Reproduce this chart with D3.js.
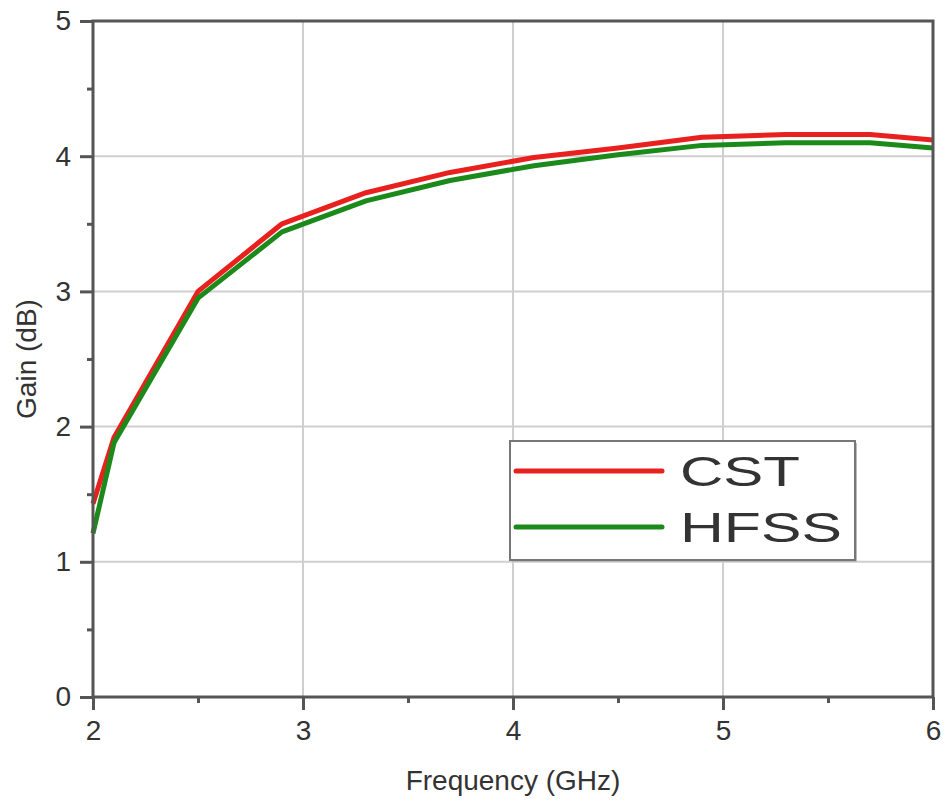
<!DOCTYPE html>
<html>
<head>
<meta charset="utf-8">
<script src="https://cdn.jsdelivr.net/npm/d3@7"></script>
<style>
  body { margin: 0; background: #fff; }
  svg text { font-family: "Liberation Sans", Arial, sans-serif; fill: #333; }
</style>
</head>
<body>
<svg id="chart" width="947" height="812"></svg>
<script>
// frequency points (GHz)
const freq = [2.0, 2.1, 2.5, 2.9, 3.3, 3.7, 4.1, 4.5, 4.9, 5.3, 5.7, 6.0];
// gain values (dB)
const cstGain  = [1.43, 1.92, 3.00, 3.50, 3.73, 3.88, 3.99, 4.06, 4.14, 4.16, 4.16, 4.12];
const hfssGain = [1.21, 1.88, 2.95, 3.44, 3.67, 3.82, 3.93, 4.01, 4.08, 4.10, 4.10, 4.06];
const xTicks = [2, 3, 4, 5, 6];
const yTicks = [0, 1, 2, 3, 4, 5];
const seriesNames = ["CST", "HFSS"];

let svg = d3.select("#chart");
let m = { left: 93, right: 14, top: 21, bottom: 115 };
let w = 947 - m.left - m.right,
    h = 812 - m.top - m.bottom;

let x = d3.scaleLinear().domain([2, 6]).range([0, w]);
let y = d3.scaleLinear().domain([0, 5]).range([h, 0]);

let g = svg.append("g").attr("transform", "translate(" + m.left + "," + m.top + ")");

// grid
g.append("g").selectAll("line")
    .data(xTicks.slice(1, -1))
    .enter().append("line")
        .attr("x1", d => x(d)).attr("x2", d => x(d))
        .attr("y1", 0).attr("y2", h)
        .attr("stroke", "#cfcfcf").attr("stroke-width", 2);
g.append("g").selectAll("line")
    .data(yTicks.slice(1, -1))
    .enter().append("line")
        .attr("y1", d => y(d)).attr("y2", d => y(d))
        .attr("x1", 0).attr("x2", w)
        .attr("stroke", "#cfcfcf").attr("stroke-width", 2);

// curves
let line = d3.line().x((d, i) => x(freq[i])).y(d => y(d));
let colors = ["#e8201e", "#1b8a1b"];
[cstGain, hfssGain].forEach(function(s, i) {
    g.append("path")
        .datum(s)
        .attr("fill", "none")
        .attr("stroke", colors[i])
        .attr("stroke-width", 5)
        .attr("stroke-linejoin", "round")
        .attr("d", line);
});

// frame
g.append("rect")
    .attr("width", w).attr("height", h)
    .attr("fill", "none").attr("stroke", "#555").attr("stroke-width", 3);

// axes
let xAxis = g.append("g").attr("transform", "translate(0," + h + ")")
    .call(d3.axisBottom(x).tickValues(xTicks).tickFormat(d3.format("d")).tickSize(13).tickPadding(10));
let xMinor = g.append("g").attr("transform", "translate(0," + h + ")")
    .call(d3.axisBottom(x).tickValues([2.5, 3.5, 4.5, 5.5]).tickFormat("").tickSize(6));
let yAxis = g.append("g")
    .call(d3.axisLeft(y).tickValues(yTicks).tickFormat(d3.format("d")).tickSize(13).tickPadding(9));
let yMinor = g.append("g")
    .call(d3.axisLeft(y).tickValues([0.5, 1.5, 2.5, 3.5, 4.5]).tickFormat("").tickSize(6));

[xAxis, xMinor, yAxis, yMinor].forEach(function(a) {
    a.select(".domain").remove();
    a.selectAll("line").attr("stroke", "#555").attr("stroke-width", 3);
    a.selectAll("text").style("font-size", "28px").attr("fill", "#333");
});

// axis titles
svg.append("text")
    .attr("x", m.left + w / 2).attr("y", 790)
    .attr("text-anchor", "middle")
    .style("font-size", "28px")
    .text("Frequency (GHz)");
svg.append("text")
    .attr("transform", "translate(36," + (m.top + h / 2) + ") rotate(-90)")
    .attr("text-anchor", "middle")
    .style("font-size", "28px")
    .text("Gain (dB)");

// legend
let lg = svg.append("g").attr("transform", "translate(510,441)");
lg.append("rect")
    .attr("x", 2).attr("y", 2).attr("width", 345).attr("height", 119)
    .attr("fill", "#bbb");
lg.append("rect")
    .attr("width", 345).attr("height", 119)
    .attr("fill", "#fff").attr("stroke", "#777").attr("stroke-width", 2);
let legendTextLen = [120, 162];
seriesNames.forEach(function(name, i) {
    let yy = 30 + i * 56;
    lg.append("line")
        .attr("x1", 6).attr("x2", 152)
        .attr("y1", yy).attr("y2", yy)
        .attr("stroke", colors[i]).attr("stroke-width", 5)
        .attr("stroke-linecap", "round");
    lg.append("text")
        .attr("x", 170).attr("y", yy + 15)
        .attr("textLength", legendTextLen[i])
        .attr("lengthAdjust", "spacingAndGlyphs")
        .style("font-size", "43px")
        .attr("fill", "#111")
        .text(name);
});
</script>
</body>
</html>
